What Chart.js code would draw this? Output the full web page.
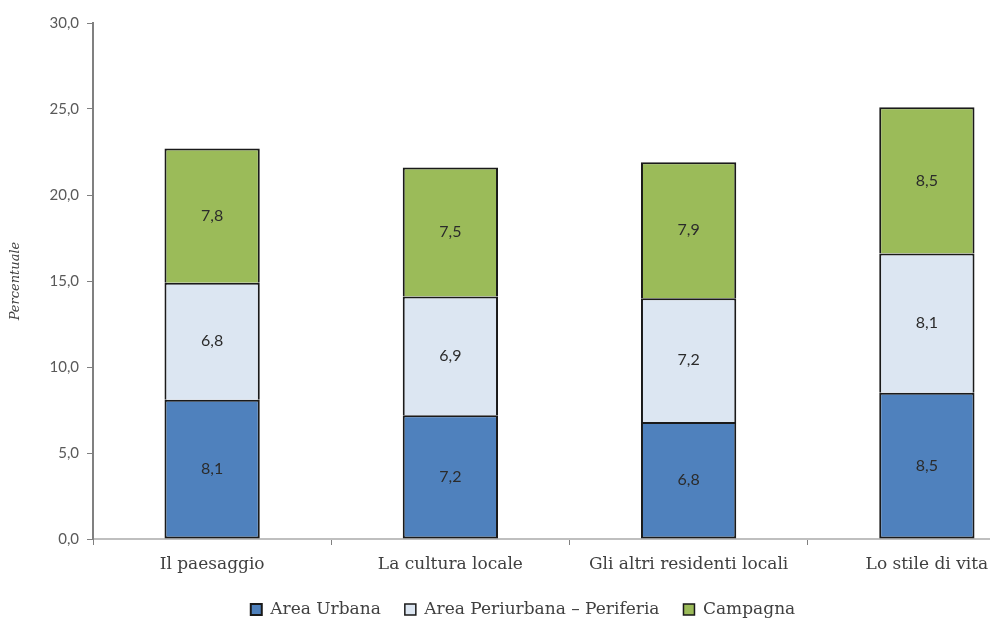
<!DOCTYPE html>
<html>
<head>
<meta charset="utf-8">
<script src="https://cdn.jsdelivr.net/npm/chart.js@4.4.0/dist/chart.umd.min.js"></script>
<style>
  html, body { margin: 0; padding: 0; background: #fff; overflow: hidden; }
  #wrap { width: 1060px; height: 630px; position: relative; }
</style>
</head>
<body>
<div id="wrap"><canvas id="chart"></canvas></div>
<script>
var categories = ['Il paesaggio', 'La cultura locale', 'Gli altri residenti locali', 'Lo stile di vita'];
var urbana = [8.1, 7.2, 6.8, 8.5];
var periurbana = [6.8, 6.9, 7.2, 8.1];
var campagna = [7.8, 7.5, 7.9, 8.5];
var yTicks = [0, 5, 10, 15, 20, 25, 30];

function fmt(v) {
  return v.toFixed(1).replace('.', ',');
}

// draws the value in the middle of each segment
var segmentLabels = {
  id: 'segmentLabels',
  afterDatasetsDraw: function(chart) {
    var ctx = chart.ctx;
    ctx.save();
    ctx.font = '16px Lato';
    ctx.fillStyle = '#2b2b2b';
    ctx.textAlign = 'center';
    ctx.textBaseline = 'middle';
    chart.data.datasets.forEach(function(ds, i) {
      chart.getDatasetMeta(i).data.forEach(function(bar, j) {
        var c = bar.getCenterPoint();
        ctx.fillText(fmt(ds.data[j]), c.x, c.y);
      });
    });
    ctx.restore();
  }
};

var data = {
  labels: categories,
  datasets: [{
    label: 'Area Urbana',
    data: urbana,
    backgroundColor: '#4F81BD',
    borderColor: '#1a1a1a',
    borderWidth: { top: 2, bottom: 2, left: 2, right: 2 },
    borderSkipped: false
  }, {
    label: 'Area Periurbana \u2013 Periferia',
    data: periurbana,
    backgroundColor: '#DCE6F2',
    borderColor: '#1a1a1a',
    borderWidth: { top: 2, bottom: 0, left: 2, right: 2 },
    borderSkipped: false
  }, {
    label: 'Campagna',
    data: campagna,
    backgroundColor: '#9BBB59',
    borderColor: '#1a1a1a',
    borderWidth: { top: 2, bottom: 0, left: 2, right: 2 },
    borderSkipped: false
  }]
};

var config = {
  type: 'bar',
  data: data,
  plugins: [segmentLabels],
  options: {
    responsive: true,
    maintainAspectRatio: false,
    animation: false,
    barPercentage: 0.4,
    categoryPercentage: 1.0,
    layout: { padding: { top: 23, right: 14, bottom: 2, left: 0 } },
    plugins: {
      tooltip: { enabled: false },
      legend: {
        position: 'bottom',
        labels: {
          font: { family: 'DejaVu Serif', size: 17 },
          color: '#404040',
          boxWidth: 11,
          boxHeight: 11,
          padding: 24
        }
      }
    },
    scales: {
      x: {
        stacked: true,
        afterFit: function(s) { s.height = 38; },
        border: { color: '#BFBFBF', width: 2 },
        grid: { drawOnChartArea: false, drawTicks: true, tickLength: 6, color: '#808080' },
        ticks: {
          padding: 9,
          color: '#404040',
          font: { family: 'DejaVu Serif', size: 17 }
        }
      },
      y: {
        stacked: true,
        min: 0,
        max: 30,
        afterFit: function(s) { s.width = 93; },
        afterBuildTicks: function(s) { s.ticks = yTicks.map(function(v) { return { value: v }; }); },
        border: { color: '#808080', width: 2 },
        grid: { drawOnChartArea: false, drawTicks: true, tickLength: 6, color: '#808080' },
        title: {
          display: true,
          text: 'Percentuale',
          color: '#404040',
          padding: { top: 8, bottom: 0 },
          font: { family: 'DejaVu Serif', size: 13, style: 'italic' }
        },
        ticks: {
          padding: 8,
          color: '#595959',
          font: { family: 'Lato', size: 15 },
          callback: function(v) { return fmt(v); }
        }
      }
    }
  }
};

new Chart(document.getElementById('chart'), config);
</script>
</body>
</html>
